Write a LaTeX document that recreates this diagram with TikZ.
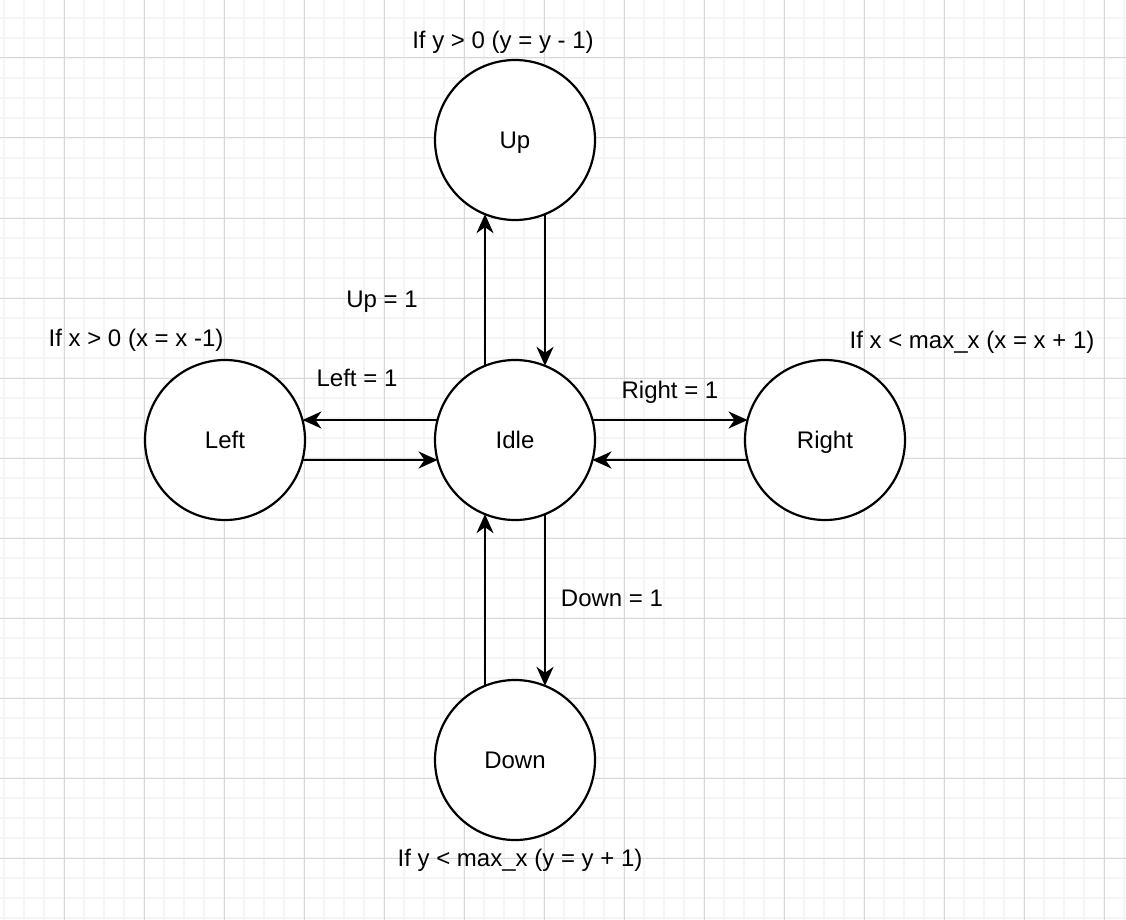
\documentclass[tikz,border=0pt]{standalone}
\usepackage{fontspec}
\setmainfont{Liberation Sans}
\usetikzlibrary{arrows.meta}
\definecolor{minorgrid}{RGB}{245,245,245}
\definecolor{majorgrid}{RGB}{216,216,216}
\tikzset{
  state/.style={circle, draw=black, line width=2.2pt, fill=white, minimum size=160pt, inner sep=0pt, outer sep=0pt, text height=17pt, text depth=0pt},
  lbl/.style={inner sep=0pt, text=black, text height=17pt, text depth=0pt},
  conn/.style={line width=2.2pt, draw=black, -{Stealth[length=19pt,width=17pt,inset=6pt]}},
  minorline/.style={draw=minorgrid, line width=1.6pt},
  majorline/.style={draw=majorgrid, line width=1pt}
}
\begin{document}
\begin{tikzpicture}[x=1pt, y=-1pt, font=\fontsize{24}{28}\selectfont]
\useasboundingbox[fill=white] (0,0) rectangle (1126,920);
% grid
\foreach \i in {0,...,56} { \draw[minorline] (4+20*\i,0) -- (4+20*\i,920); }
\foreach \i in {0,...,45} { \draw[minorline] (0,18+20*\i) -- (1126,18+20*\i); }
\foreach \i in {0,...,13} { \draw[majorline] (64+80*\i,0) -- (64+80*\i,920); }
\foreach \i in {0,...,11} { \draw[majorline] (0,58+80*\i) -- (1126,58+80*\i); }
% states
\node[state] (up) at (515,140) {Up};
\node[state] (idle) at (515,440) {Idle};
\node[state] (left) at (225,440) {Left};
\node[state] (right) at (825,440) {Right};
\node[state] (down) at (515,760) {Down};
% connectors
\draw[conn] ([shift={(-30,-74.16)}]idle.center) -- ([shift={(-30,74.16)}]up.center);
\draw[conn] ([shift={(30,74.16)}]up.center) -- ([shift={(30,-74.16)}]idle.center);
\draw[conn] ([shift={(30,74.16)}]idle.center) -- ([shift={(30,-74.16)}]down.center);
\draw[conn] ([shift={(-30,-74.16)}]down.center) -- ([shift={(-30,74.16)}]idle.center);
\draw[conn] ([shift={(-77.46,-20)}]idle.center) -- ([shift={(77.46,-20)}]left.center);
\draw[conn] ([shift={(77.46,20)}]left.center) -- ([shift={(-77.46,20)}]idle.center);
\draw[conn] ([shift={(77.46,-20)}]idle.center) -- ([shift={(-77.46,-20)}]right.center);
\draw[conn] ([shift={(-77.46,20)}]right.center) -- ([shift={(77.46,20)}]idle.center);
% labels
\node[lbl] (lup) at (503,40) {If y > 0 (y = y - 1)};
\node[lbl] (lupeq) at (382,299) {Up = 1};
\node[lbl] (lleft) at (136,338) {If x > 0 (x = x -1)};
\node[lbl] (llefteq) at (357,378) {Left = 1};
\node[lbl] (lrighteq) at (670,390) {Right = 1};
\node[lbl] (lright) at (972,340) {If x < max\_x (x = x + 1)};
\node[lbl] (ldowneq) at (612,598) {Down = 1};
\node[lbl] (ldown) at (520,858) {If y < max\_x (y = y + 1)};
\end{tikzpicture}
\end{document}
